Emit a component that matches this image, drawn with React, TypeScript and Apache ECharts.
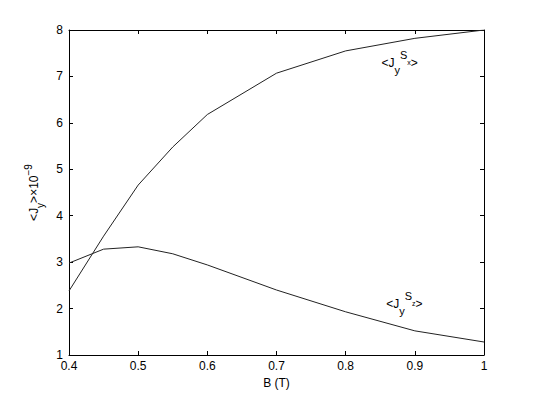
import React, { useEffect, useRef } from "react";
import * as echarts from "echarts";

const bValues = [0.4, 0.45, 0.5, 0.55, 0.6, 0.7, 0.8, 0.9, 1.0];
const jSx = [2.38, 3.56, 4.66, 5.48, 6.18, 7.07, 7.55, 7.82, 8.0];
const jSz = [2.98, 3.28, 3.33, 3.18, 2.94, 2.4, 1.93, 1.52, 1.28];
const xTicks = { min: 0.4, max: 1.0, interval: 0.1 };
const yTicks = { min: 1, max: 8, interval: 1 };

const FONT = "Liberation Sans, Arial, Helvetica, sans-serif";
const lineColor = "#222";

const richLabel = {
  j: { fontSize: 12, fontFamily: FONT, color: "#000", lineHeight: 26, verticalAlign: "middle" },
  y: { fontSize: 11, fontFamily: FONT, color: "#000", lineHeight: 26, verticalAlign: "bottom" },
  s: { fontSize: 11, fontFamily: FONT, color: "#000", lineHeight: 26, verticalAlign: "top" },
  x: { fontSize: 7, fontFamily: FONT, color: "#000", lineHeight: 26, verticalAlign: "middle" },
};

export default function App() {
  const ref = useRef<HTMLDivElement>(null);
  useEffect(() => {
    if (!ref.current) return;
    const chart = echarts.init(ref.current, null, { renderer: "svg" });
    const axisLine = { show: true, lineStyle: { color: "#000", width: 1 } };
    const tick = { show: true, inside: true, length: 4, lineStyle: { color: "#000" } };
    chart.setOption({
      animation: false,
      backgroundColor: "#fff",
      grid: { left: 69, right: 50, top: 30, bottom: 46, containLabel: false },
      xAxis: [
        {
          type: "value",
          ...xTicks,
          position: "bottom",
          axisLine,
          axisTick: tick,
          splitLine: { show: false },
          axisLabel: {
            fontSize: 12, fontFamily: FONT, color: "#000", margin: 5,
            formatter: (v: number) => (Math.abs(v - 1) < 1e-9 ? "1" : v.toFixed(1)),
          },
          name: "B (T)",
          nameLocation: "middle",
          nameGap: 19,
          nameTextStyle: { fontSize: 12, fontFamily: FONT, color: "#000" },
        },
        {
          type: "value",
          ...xTicks,
          position: "top",
          axisLine,
          axisTick: tick,
          splitLine: { show: false },
          axisLabel: { show: false },
        },
      ],
      yAxis: [
        {
          type: "value",
          ...yTicks,
          position: "left",
          axisLine,
          axisTick: tick,
          splitLine: { show: false },
          axisLabel: { fontSize: 12, fontFamily: FONT, color: "#000", margin: 6 },
          name: "<J{sub|y}>×10{sup|−9}",
          nameLocation: "middle",
          nameGap: 26,
          nameRotate: 90,
          nameTextStyle: {
            fontSize: 12, fontFamily: FONT, color: "#000", lineHeight: 22, verticalAlign: "middle",
            rich: {
              sub: { fontSize: 10, fontFamily: FONT, color: "#000", lineHeight: 22, verticalAlign: "bottom" },
              sup: { fontSize: 10, fontFamily: FONT, color: "#000", lineHeight: 22, verticalAlign: "top" },
            },
          },
        },
        {
          type: "value",
          ...yTicks,
          position: "right",
          axisLine,
          axisTick: tick,
          splitLine: { show: false },
          axisLabel: { show: false },
        },
      ],
      series: [
        {
          type: "line",
          name: "Sx",
          data: bValues.map((b, i) => [b, jSx[i]]),
          showSymbol: false,
          lineStyle: { color: lineColor, width: 1 },
          markPoint: {
            symbol: "circle",
            symbolSize: 0,
            data: [{ coord: [0.878, 7.29] }],
            label: {
              show: true,
              position: "inside",
              formatter: "{j|<J}{y|y}{s|S}{x|x}{j|>}",
              rich: richLabel,
            },
          },
        },
        {
          type: "line",
          name: "Sz",
          data: bValues.map((b, i) => [b, jSz[i]]),
          showSymbol: false,
          lineStyle: { color: lineColor, width: 1 },
          markPoint: {
            symbol: "circle",
            symbolSize: 0,
            data: [{ coord: [0.885, 2.1] }],
            label: {
              show: true,
              position: "inside",
              formatter: "{j|<J}{y|y}{s|S}{x|z}{j|>}",
              rich: richLabel,
            },
          },
        },
      ],
    });
    return () => chart.dispose();
  }, []);
  return <div ref={ref} style={{ width: 534, height: 401, position: "absolute", left: 0, top: 0 }} />;
}
